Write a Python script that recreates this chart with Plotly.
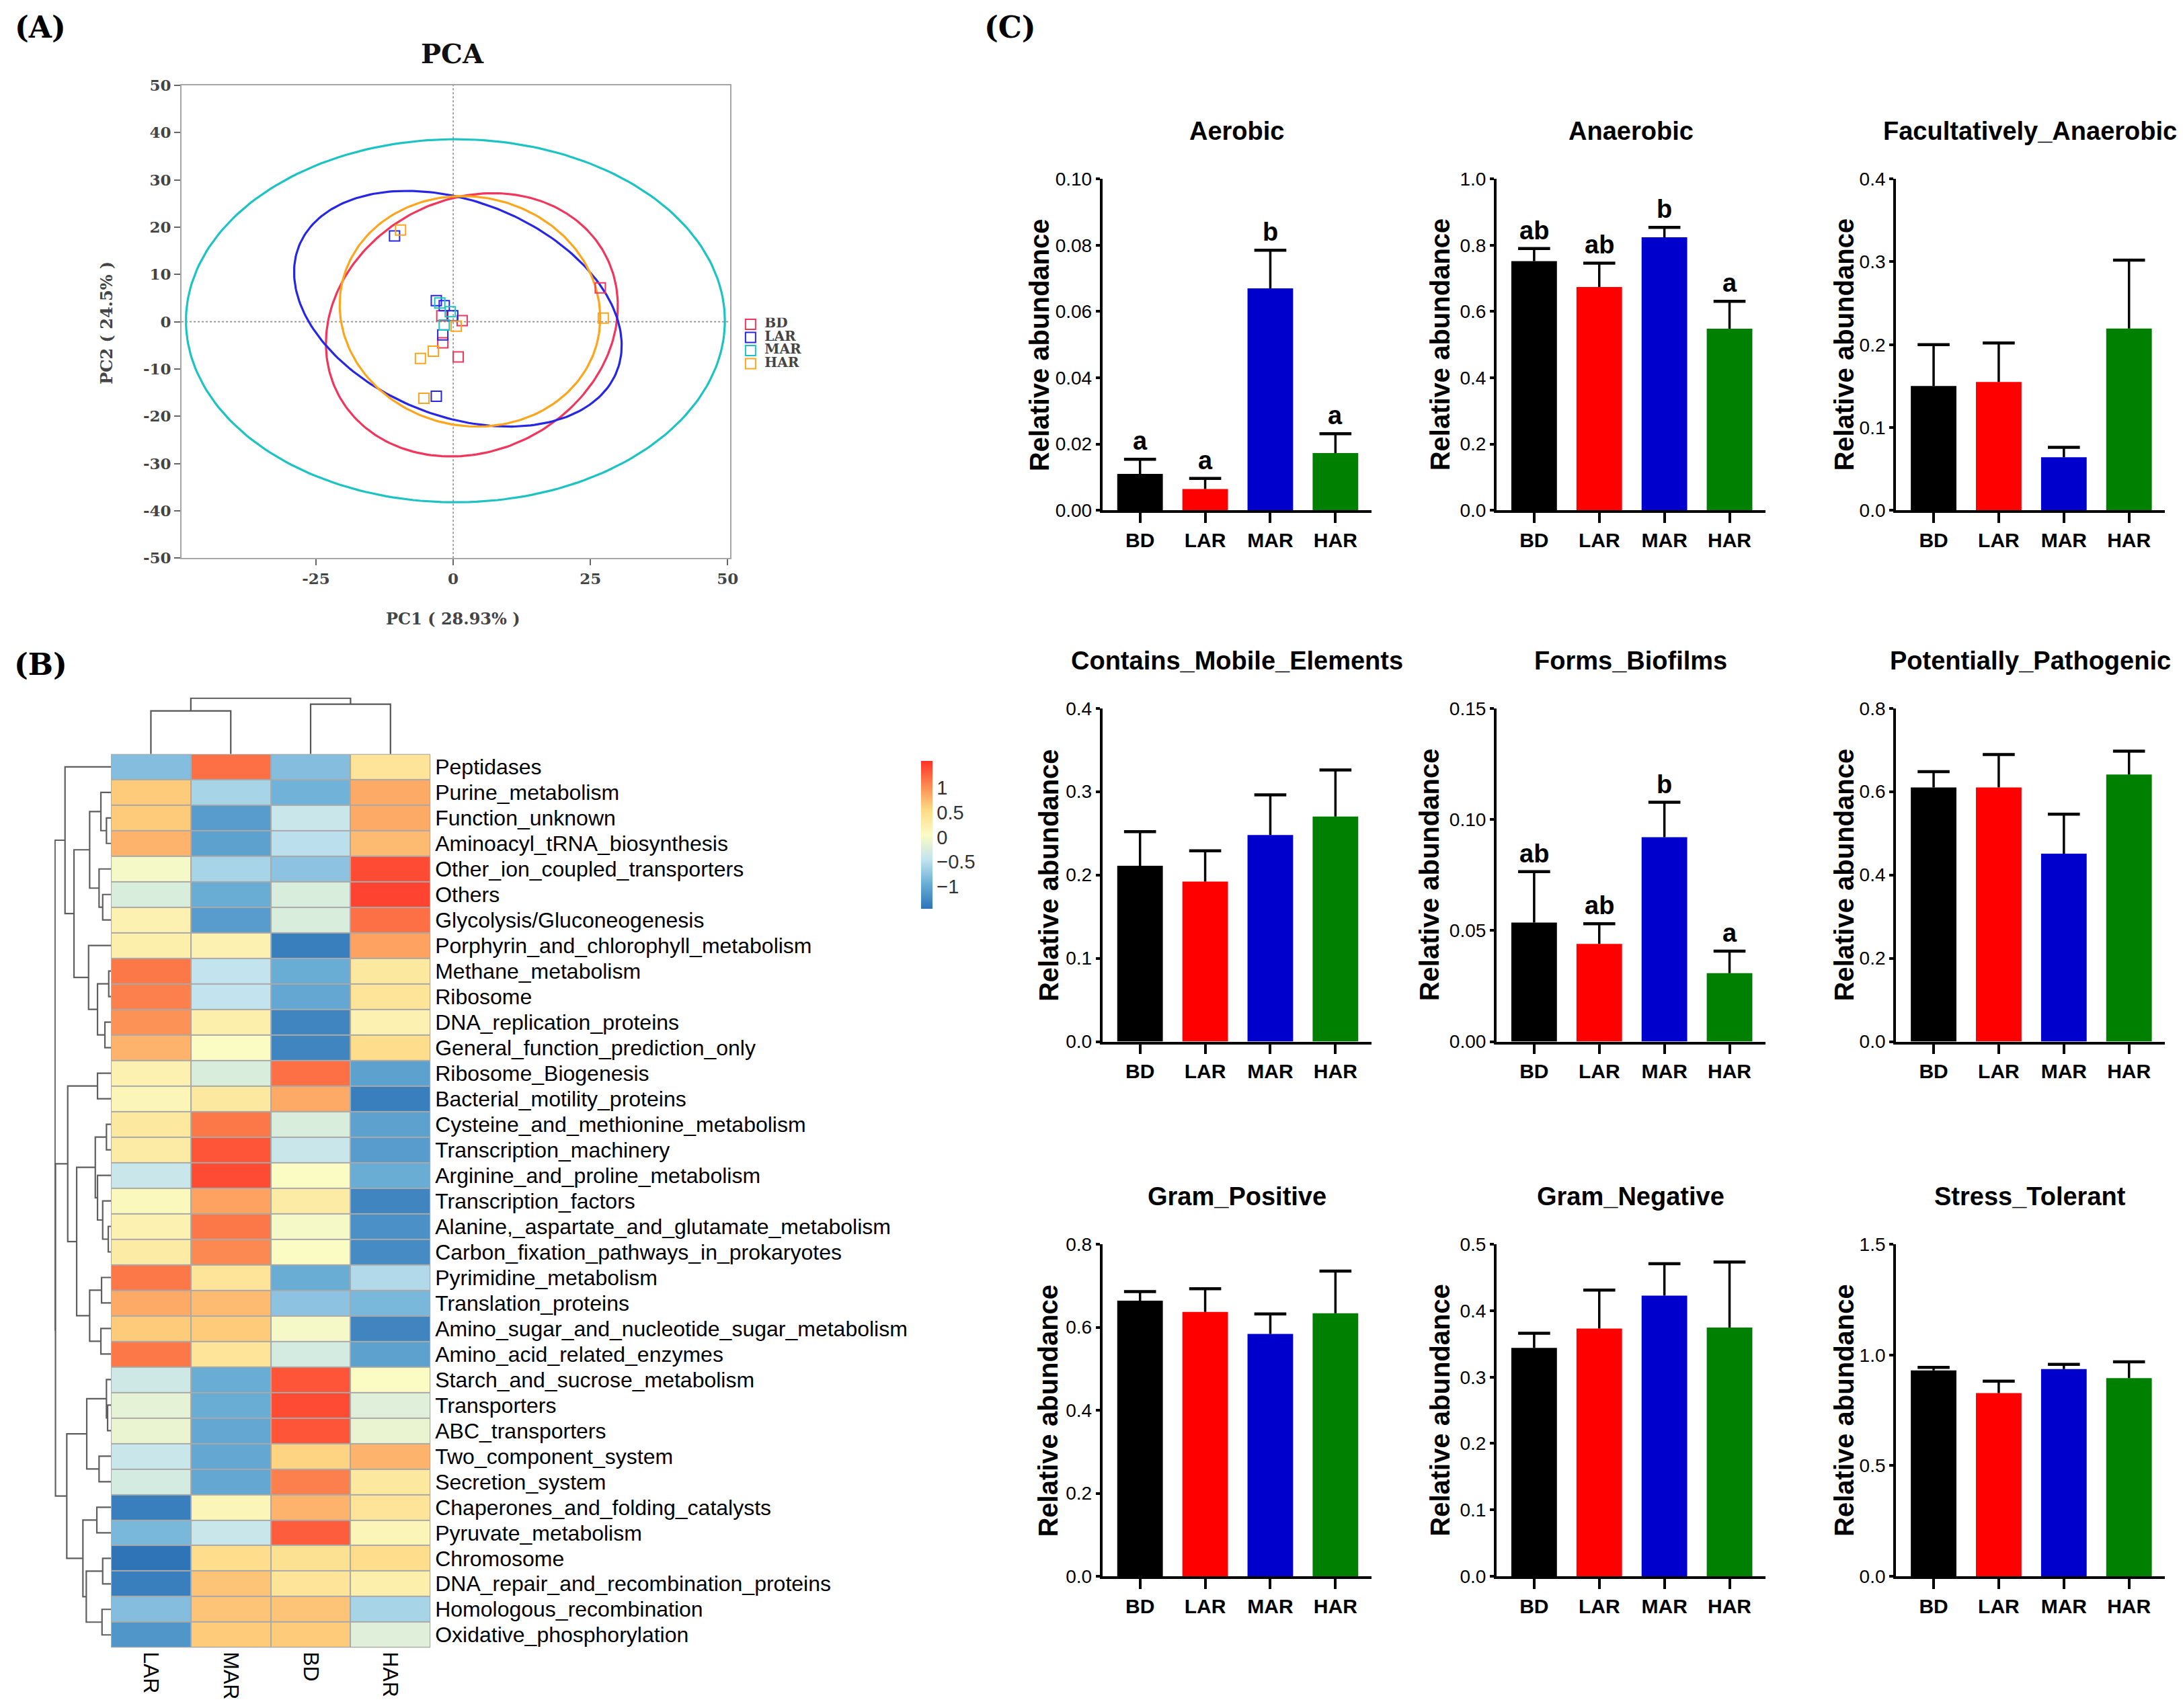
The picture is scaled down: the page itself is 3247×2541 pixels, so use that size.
import numpy as np
import plotly.graph_objects as go

W, H = 3247, 2541
# the photographed page comes out slightly rescaled; place items in target pixels
SX, SY, OY = 0.996, 0.986, 18.2


def px(x):
    return x / SX / W


def py(y):
    return 1 - (y - OY) / SY / H


# ------------------------------------------------------------------ DATA
groups = ["BD", "LAR", "MAR", "HAR"]

# (A) PCA scores
pca_bd_x = [26.8, 1.63, -2.08, -1.9, 0.91]
pca_bd_y = [7.17, 0.25, 1.27, -4.47, -7.43]
pca_lar_x = [-10.69, -3.08, -1.63, -0.09, -1.9, -3.08]
pca_lar_y = [18.14, 4.47, 3.38, 1.27, -2.78, -15.78]
pca_mar_x = [-2.45, -0.54, -1.63]
pca_mar_y = [3.97, 2.11, -0.68]
pca_har_x = [-9.6, 27.35, 0.54, -3.62, -5.98, -5.34]
pca_har_y = [19.4, 0.76, -0.93, -6.24, -7.76, -16.2]

# confidence ellipses (centre, semi-axes, rotation in degrees) for BD, LAR, MAR, HAR
ell_cx = [3.4, 0.85, 0.4, 3.05]
ell_cy = [-0.65, 2.75, 0.2, 2.2]
ell_a = [29.2, 32.0, 49.1, 24.8]
ell_b = [25.1, 22.1, 38.4, 23.3]
ell_angle = [53.9, -29.9, 0.0, -57.7]

pca_xticks = [-25, 0, 25, 50]
pca_yticks = [-50, -40, -30, -20, -10, 0, 10, 20, 30, 40, 50]

# (B) heatmap (row z-scores), columns in clustered order
hm_cols = ["LAR", "MAR", "BD", "HAR"]
hm_rows = [
    "Peptidases", "Purine_metabolism", "Function_unknown", "Aminoacyl_tRNA_biosynthesis",
    "Other_ion_coupled_transporters", "Others", "Glycolysis/Gluconeogenesis",
    "Porphyrin_and_chlorophyll_metabolism", "Methane_metabolism", "Ribosome",
    "DNA_replication_proteins", "General_function_prediction_only", "Ribosome_Biogenesis",
    "Bacterial_motility_proteins", "Cysteine_and_methionine_metabolism",
    "Transcription_machinery", "Arginine_and_proline_metabolism", "Transcription_factors",
    "Alanine,_aspartate_and_glutamate_metabolism", "Carbon_fixation_pathways_in_prokaryotes",
    "Pyrimidine_metabolism", "Translation_proteins",
    "Amino_sugar_and_nucleotide_sugar_metabolism", "Amino_acid_related_enzymes",
    "Starch_and_sucrose_metabolism", "Transporters", "ABC_transporters",
    "Two_component_system", "Secretion_system", "Chaperones_and_folding_catalysts",
    "Pyruvate_metabolism", "Chromosome", "DNA_repair_and_recombination_proteins",
    "Homologous_recombination", "Oxidative_phosphorylation",
]
hm_values = [
    [-0.8, 1.2, -0.8, 0.4],
    [0.65, -0.6, -0.9, 0.85],
    [0.65, -1.1, -0.4, 0.85],
    [0.8, -1.05, -0.5, 0.75],
    [0.0, -0.6, -0.75, 1.4],
    [-0.25, -0.95, -0.25, 1.45],
    [0.2, -1.1, -0.25, 1.2],
    [0.25, 0.2, -1.35, 0.9],
    [1.15, -0.45, -0.95, 0.35],
    [1.1, -0.45, -1.0, 0.4],
    [1.0, 0.25, -1.3, 0.2],
    [0.8, 0.05, -1.3, 0.5],
    [0.2, -0.25, 1.2, -1.05],
    [0.15, 0.35, 0.85, -1.35],
    [0.35, 1.15, -0.25, -1.05],
    [0.3, 1.35, -0.4, -1.1],
    [-0.4, 1.4, 0.05, -0.95],
    [0.1, 0.9, 0.3, -1.3],
    [0.2, 1.15, 0.0, -1.2],
    [0.3, 1.05, 0.05, -1.25],
    [1.15, 0.4, -0.95, -0.55],
    [0.85, 0.75, -0.75, -0.85],
    [0.65, 0.65, 0.0, -1.3],
    [1.15, 0.4, -0.3, -1.05],
    [-0.35, -0.95, 1.35, 0.05],
    [-0.15, -0.95, 1.4, -0.2],
    [-0.1, -1.0, 1.35, -0.1],
    [-0.4, -1.0, 0.6, 0.8],
    [-0.3, -1.0, 1.1, 0.35],
    [-1.35, 0.15, 0.8, 0.4],
    [-0.85, -0.4, 1.3, 0.15],
    [-1.45, 0.5, 0.45, 0.5],
    [-1.35, 0.7, 0.4, 0.25],
    [-0.8, 0.7, 0.7, -0.6],
    [-1.15, 0.65, 0.65, -0.2],
]
cbar_ticks = [-1, -0.5, 0, 0.5, 1]
cbar_ticktext = ["\u22121", "\u22120.5", "0", "0.5", "1"]

# dendrograms: [left, right, height]; ids >= n_leaves refer to earlier merges
col_linkage = [[0, 1, 64], [2, 3, 74], [4, 5, 83]]
row_linkage = [
    [2, 3, 6.7], [1, 35, 15], [5, 6, 12.3], [4, 37, 17.7], [36, 38, 31.7],
    [8, 9, 3.3], [10, 11, 9], [40, 41, 20], [7, 42, 33.3], [39, 43, 55],
    [0, 44, 68.3], [12, 13, 20], [14, 15, 6.7], [18, 19, 4], [17, 48, 12.3],
    [16, 49, 20], [47, 50, 23.3], [20, 21, 14], [22, 23, 15], [52, 53, 31.7],
    [51, 54, 51], [46, 55, 64.3], [25, 26, 5], [24, 57, 6.7], [27, 28, 17.7],
    [58, 59, 36], [29, 30, 21], [31, 32, 12.3], [33, 34, 13.3], [62, 63, 36.7],
    [61, 64, 41.7], [60, 65, 65.7], [56, 66, 82.5], [45, 67, 83.3],
]

# (C) phenotype bars: mean and upper SE per group
panel_titles = ["Aerobic", "Anaerobic", "Facultatively_Anaerobic",
                "Contains_Mobile_Elements", "Forms_Biofilms", "Potentially_Pathogenic",
                "Gram_Positive", "Gram_Negative", "Stress_Tolerant"]
panel_means = [
    [0.011, 0.0064, 0.067, 0.0173],
    [0.752, 0.674, 0.824, 0.548],
    [0.150, 0.155, 0.064, 0.2195],
    [0.211, 0.192, 0.248, 0.270],
    [0.0536, 0.044, 0.092, 0.0308],
    [0.610, 0.610, 0.451, 0.641],
    [0.664, 0.637, 0.584, 0.634],
    [0.344, 0.373, 0.4227, 0.3747],
    [0.930, 0.828, 0.936, 0.895],
]
panel_errs = [
    [0.0044, 0.0032, 0.0115, 0.0058],
    [0.038, 0.072, 0.030, 0.083],
    [0.050, 0.047, 0.012, 0.0825],
    [0.041, 0.037, 0.048, 0.056],
    [0.0229, 0.009, 0.0157, 0.0099],
    [0.038, 0.079, 0.095, 0.056],
    [0.022, 0.056, 0.048, 0.1015],
    [0.022, 0.058, 0.048, 0.0986],
    [0.014, 0.054, 0.0215, 0.074],
]
panel_ticks = [
    [0, 0.02, 0.04, 0.06, 0.08, 0.10],
    [0, 0.2, 0.4, 0.6, 0.8, 1.0],
    [0, 0.1, 0.2, 0.3, 0.4],
    [0, 0.1, 0.2, 0.3, 0.4],
    [0, 0.05, 0.10, 0.15],
    [0, 0.2, 0.4, 0.6, 0.8],
    [0, 0.2, 0.4, 0.6, 0.8],
    [0, 0.1, 0.2, 0.3, 0.4, 0.5],
    [0, 0.5, 1.0, 1.5],
]
panel_tickdec = [2, 1, 1, 1, 2, 1, 1, 1, 1]
panel_letters = [
    ["a", "a", "b", "a"],
    ["ab", "ab", "b", "a"],
    None, None,
    ["ab", "ab", "b", "a"],
    None, None, None, None,
]

# ------------------------------------------------------------------ STYLE
pca_colors = ["#F2355B", "#2626E6", "#1CC3C3", "#FFA51C"]
bar_colors = ["#000000", "#FF0000", "#0000CC", "#008000"]
SERIF = "DejaVu Serif"
SANS = "Liberation Sans, Arial, sans-serif"

fig = go.Figure()
layout = dict(
    width=W, height=H, margin=dict(l=0, r=0, t=0, b=0),
    paper_bgcolor="white", plot_bgcolor="white",
    showlegend=False,
)
annotations = []
shapes = []


def ann(text, x, y, size, family, color="black", bold=True, angle=0):
    annotations.append(dict(
        text=text, x=px(x), y=py(y), xref="paper", yref="paper", showarrow=False,
        xanchor="center", yanchor="middle", textangle=angle,
        font=dict(family=family, size=size, color=color, weight="bold" if bold else "normal")))


# ------------------------------------------------------------------ (A) PCA
pca_sets = [(pca_bd_x, pca_bd_y), (pca_lar_x, pca_lar_y),
            (pca_mar_x, pca_mar_y), (pca_har_x, pca_har_y)]
t = np.linspace(0, 2 * np.pi, 241)
for i, g in enumerate(groups):
    th = np.deg2rad(ell_angle[i])
    ex = ell_cx[i] + ell_a[i] * np.cos(t) * np.cos(th) - ell_b[i] * np.sin(t) * np.sin(th)
    ey = ell_cy[i] + ell_a[i] * np.cos(t) * np.sin(th) + ell_b[i] * np.sin(t) * np.cos(th)
    fig.add_trace(go.Scatter(x=ex, y=ey, mode="lines", line=dict(color=pca_colors[i], width=3.2),
                             hoverinfo="skip", xaxis="x", yaxis="y"))
for i, g in enumerate(groups):
    fig.add_trace(go.Scatter(
        x=pca_sets[i][0], y=pca_sets[i][1], mode="markers", name=g,
        marker=dict(symbol="square-open", size=15, color=pca_colors[i], line=dict(width=2)),
        xaxis="x", yaxis="y"))

pca_tickfont = dict(family=SERIF, size=23, color="#444444", weight="bold")
pca_axis = dict(showline=True, mirror=True, linecolor="#A6A6A6", linewidth=2,
                ticks="outside", ticklen=9, tickwidth=2, tickcolor="#666666",
                showgrid=False, zeroline=False, tickfont=pca_tickfont)
layout["xaxis"] = dict(domain=[px(270), px(1086)], range=[-49.5, 50.5], anchor="y",
                       tickvals=pca_xticks, ticktext=[str(v) for v in pca_xticks], **pca_axis)
layout["yaxis"] = dict(domain=[py(832), py(130)], range=[-50, 50], anchor="x",
                       tickvals=pca_yticks, ticktext=[str(v) for v in pca_yticks], **pca_axis)
shapes.append(dict(type="line", xref="x", yref="y domain", x0=0, x1=0, y0=0, y1=1,
                   line=dict(color="#8C8C8C", width=1.6, dash="dot"), layer="below"))
shapes.append(dict(type="line", xref="x domain", yref="y", x0=0, x1=1, y0=0, y1=0,
                   line=dict(color="#8C8C8C", width=1.6, dash="dot"), layer="below"))
ann("PCA", 673, 83, 40, SERIF, "#111111")
ann("PC1 ( 28.93% )", 674, 922, 24, SERIF, "#444444")
ann("PC2 ( 24.5% )", 159, 483, 24, SERIF, "#444444", angle=-90)

# legend of group symbols (own small axis so items sit as tightly as in the reference)
leg_slots = list(range(len(groups)))
fig.add_trace(go.Scatter(
    x=[20] * len(groups), y=leg_slots, mode="markers",
    marker=dict(symbol="square-open", size=15, color=pca_colors, line=dict(width=2)),
    hoverinfo="skip", xaxis="x14", yaxis="y14"))
fig.add_trace(go.Scatter(
    x=[41] * len(groups), y=leg_slots, mode="text", text=groups, textposition="middle right",
    textfont=dict(family=SERIF, size=20, color="#444444", weight="bold"),
    hoverinfo="skip", xaxis="x14", yaxis="y14"))
hidden = dict(showgrid=False, zeroline=False, showline=False, showticklabels=False, ticks="")
layout["xaxis14"] = dict(domain=[px(1096), px(1220)], range=[0, 124], anchor="y14", **hidden)
layout["yaxis14"] = dict(domain=[py(553), py(475)], range=[3.5, -0.5], anchor="x14", **hidden)

# ------------------------------------------------------------------ (B) heatmap
hm_colorscale = [
    [0.0, "#2E74B7"], [0.17, "#6AAED6"], [0.33, "#C2E3EF"], [0.5, "#FBFBC4"],
    [0.67, "#FEDA85"], [0.83, "#FC8B52"], [1.0, "#FF3128"],
]
n_rows = len(hm_rows)
fig.add_trace(go.Heatmap(
    z=hm_values, x=list(range(len(hm_cols))), y=list(range(n_rows)),
    colorscale=hm_colorscale, zmin=-1.45, zmax=1.55, xgap=2, ygap=2,
    xaxis="x2", yaxis="y2", hoverinfo="skip",
    colorbar=dict(x=px(1360), xanchor="left", y=py(1123), yanchor="top",
                  len=240 / SY / H, lenmode="fraction", thickness=17, outlinewidth=0,
                  tickvals=cbar_ticks, ticktext=cbar_ticktext, ticks="",
                  tickfont=dict(family=SANS, size=29, color="#333333")),
))
shapes.append(dict(type="rect", xref="x2 domain", yref="y2 domain", x0=0, x1=1, y0=0, y1=1,
                   fillcolor="#A9A9A9", line=dict(width=0), layer="below"))
hm_font = dict(family=SANS, size=32, color="#000000")
layout["xaxis2"] = dict(domain=[px(165), px(640)], range=[-0.5, 3.5], anchor="y2",
                        tickvals=list(range(len(hm_cols))), ticktext=hm_cols, tickangle=90,
                        showgrid=False, zeroline=False, showline=False, ticks="",
                        ticklabelstandoff=5, tickfont=hm_font)
layout["yaxis2"] = dict(domain=[py(2450), py(1123)], range=[n_rows - 0.5, -0.5], anchor="x2",
                        side="right", tickvals=list(range(n_rows)), ticktext=hm_rows,
                        showgrid=False, zeroline=False, showline=False, ticks="",
                        ticklabelstandoff=6, tickfont=hm_font)


def dendro(n_leaves, linkage):
    pos = list(range(n_leaves))
    hgt = [0.0] * n_leaves
    p_out, h_out = [], []
    for a, b, h in linkage:
        p_out += [pos[a], pos[a], pos[b], pos[b], None]
        h_out += [hgt[a], h, h, hgt[b], None]
        pos.append((pos[a] + pos[b]) / 2)
        hgt.append(h)
    return p_out, h_out


cp, ch = dendro(len(hm_cols), col_linkage)
fig.add_trace(go.Scatter(x=cp, y=ch, mode="lines", line=dict(color="#555555", width=2.2),
                         hoverinfo="skip", xaxis="x3", yaxis="y3"))
rp, rh = dendro(n_rows, row_linkage)
fig.add_trace(go.Scatter(x=rh, y=rp, mode="lines", line=dict(color="#5E5E5E", width=2.2),
                         hoverinfo="skip", xaxis="x4", yaxis="y4"))
layout["xaxis3"] = dict(domain=[px(165), px(640)], range=[-0.5, 3.5], anchor="y3", **hidden)
layout["yaxis3"] = dict(domain=[py(1123), py(1039)], range=[0, 84], anchor="x3", **hidden)
layout["xaxis4"] = dict(domain=[px(81), px(165)], range=[84, 0], anchor="y4", **hidden)
layout["yaxis4"] = dict(domain=[py(2450), py(1123)], range=[n_rows - 0.5, -0.5], anchor="x4",
                        **hidden)

# ------------------------------------------------------------------ (C) bars
col_x = [1639, 2225, 2819]
row_y = [(269, 761), (1055, 1550), (1851, 2344)]
ytitle_off = [94, 84, 77, 80, 100, 77, 80, 84, 77]
ax_w = 400
for i, title in enumerate(panel_titles):
    r, c = divmod(i, 3)
    k = 5 + i
    xa, ya = f"x{k}", f"y{k}"
    means, errs = panel_means[i], panel_errs[i]
    fig.add_trace(go.Bar(
        x=groups, y=means, width=0.7, marker=dict(color=bar_colors, line=dict(width=0)),
        error_y=dict(type="data", symmetric=False, array=errs, arrayminus=[0] * len(errs),
                     color="black", thickness=3.5, width=0),
        hoverinfo="skip", xaxis=xa, yaxis=ya))
    fig.add_trace(go.Scatter(
        x=groups, y=[m + e for m, e in zip(means, errs)], mode="markers",
        marker=dict(symbol="line-ew", size=34, line=dict(color="black", width=4.5)),
        hoverinfo="skip", xaxis=xa, yaxis=ya))
    top, bot = row_y[r]
    x0 = col_x[c]
    dec = panel_tickdec[i]
    layout[f"xaxis{k}"] = dict(
        domain=[px(x0), px(x0 + ax_w)], anchor=ya, type="category",
        categoryorder="array", categoryarray=groups, range=[-0.58, 3.55],
        showline=True, linecolor="black", linewidth=3.5, ticks="outside", ticklen=15,
        tickwidth=3.5, tickcolor="black", showgrid=False, zeroline=False,
        tickfont=dict(family=SANS, size=30, color="black", weight="bold"))
    layout[f"yaxis{k}"] = dict(
        domain=[py(bot), py(top)], anchor=xa, range=[0, panel_ticks[i][-1]],
        tickvals=panel_ticks[i], ticktext=[f"{v:.{dec}f}" for v in panel_ticks[i]],
        showline=True, linecolor="black", linewidth=3.5, ticks="outside", ticklen=6,
        tickwidth=3.5, tickcolor="black", showgrid=False, zeroline=False,
        tickfont=dict(family=SANS, size=28, color="black"))
    ann("Relative abundance", x0 - ytitle_off[i], (top + bot) / 2, 40, SANS, angle=-90)
    ann(title, x0 + ax_w / 2, top - 71, 38, SANS)
    if panel_letters[i]:
        for g, m, e, lt in zip(groups, means, errs, panel_letters[i]):
            annotations.append(dict(text=lt, x=g, y=m + e, xref=xa, yref=ya, showarrow=False,
                                    xanchor="center", yanchor="bottom", yshift=4,
                                    font=dict(family=SANS, size=38, color="black",
                                              weight="bold")))

# panel labels
for lab, xx, yy in [("(A)", 60, 44), ("(B)", 60, 990), ("(C)", 1502, 44)]:
    ann(lab, xx, yy, 44, SERIF)

layout["annotations"] = annotations
layout["shapes"] = shapes
fig.update_layout(**layout)

fig.write_html(
    "out.html",
    config={"displayModeBar": False},
    post_script=("document.documentElement.style.margin='0';"
                 "document.documentElement.style.padding='0';"
                 "document.body.style.margin='0';document.body.style.padding='0';"
                 "document.documentElement.style.overflow='hidden';"
                 "document.body.style.overflow='hidden';window.scrollTo(0,0);"),
)
